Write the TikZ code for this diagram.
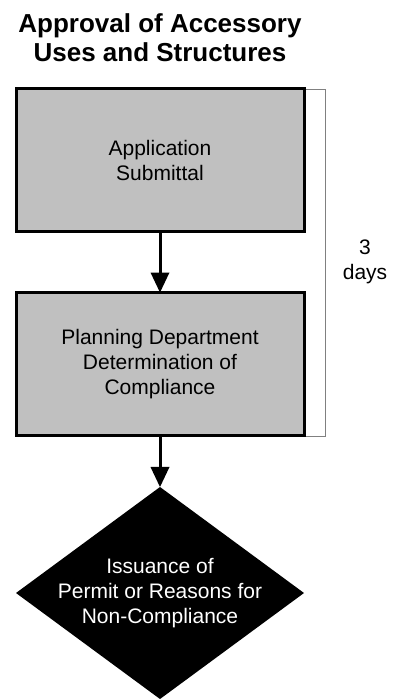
\documentclass[tikz,border=0pt]{standalone}
\usepackage{fontspec}
\setmainfont{Liberation Sans}
\usetikzlibrary{arrows.meta,shapes.geometric}
\begin{document}
\begin{tikzpicture}[x=1pt,y=-1pt, line width=3pt, font={\fontsize{21pt}{25pt}\selectfont},
	stepbox/.style={draw=black, fill=boxgray, minimum width=288pt, minimum height=143pt, inner sep=0pt, outer sep=0pt, align=center},
	decision/.style={diamond, fill=black, minimum width=288pt, minimum height=212pt, inner sep=0pt, outer sep=0pt},
	flow/.style={-{Triangle[length=20pt,width=19pt,line width=0pt]}},
	bracket/.style={draw=gray, line width=1pt}]
	\definecolor{boxgray}{RGB}{192,192,192}
	\useasboundingbox (0,0) rectangle (393,699);
	% Khung
	\node[font={\fontsize{26pt}{29pt}\selectfont\bfseries}, align=center] (title) at (160,38) {Approval of Accessory\\Uses and Structures};
	\draw[bracket] (304,89) -- (325,89) -- (325,436) -- (304,436);
	\node[stepbox] (app) at (160,160) {Application\\Submittal};
	\node[stepbox] (plan) at (160,364) {Planning Department\\Determination of\\Compliance};
	\node[decision] (issue) at (160,593) {};
	\node[text=white, align=center] (issuetext) at (issue.center) {Issuance of\\Permit or Reasons for\\Non-Compliance};
	\node[align=center] (days) at (365,262) {3\\days};
	% Mui ten
	\draw[flow] (app) -- (plan);
	\draw[flow] (plan) -- (issue);
\end{tikzpicture}
\end{document}
